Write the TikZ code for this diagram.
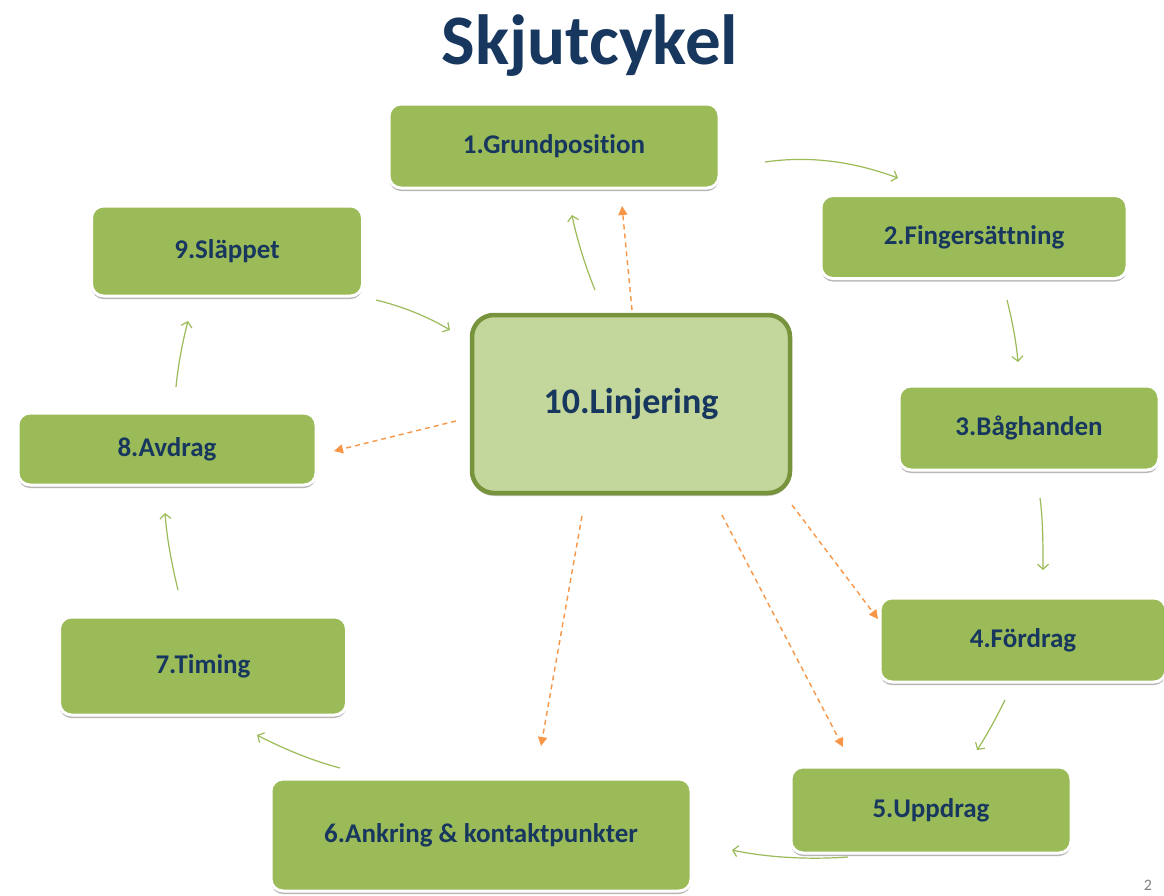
\documentclass[tikz,border=0pt]{standalone}
\usepackage{fontspec}
\setmainfont{Carlito}[Ligatures=NoCommon]
\usetikzlibrary{arrows.meta,shadows}
\definecolor{boxgreen}{HTML}{9BBB59}
\definecolor{lightgreen}{HTML}{C3D69B}
\definecolor{darkolive}{HTML}{77933C}
\definecolor{navy}{HTML}{17375E}
\definecolor{arrgreen}{HTML}{9BBB59}
\definecolor{arrorange}{HTML}{F79646}
\tikzset{
  box/.style={rectangle, rounded corners=12pt, fill=boxgreen, draw=white, line width=3pt,
    drop shadow={shadow xshift=0pt, shadow yshift=-3pt, opacity=0.4, fill=black!70},
    text=navy, font=\bfseries\fontsize{27}{32}\selectfont, inner sep=0pt},
  centerbox/.style={rectangle, rounded corners=22pt, fill=lightgreen, draw=darkolive, line width=4.5pt,
    drop shadow={shadow xshift=0pt, shadow yshift=-3pt, opacity=0.3, fill=black!70},
    text=navy, font=\bfseries\fontsize{36}{42}\selectfont, inner sep=0pt},
  flow/.style={draw=arrgreen, line width=1.2pt, -{Straight Barb[length=5pt,width=11pt]}},
  orangedash/.style={draw=arrorange, line width=1.4pt, dash pattern=on 5pt off 4pt, -{Triangle[length=9pt,width=9pt]}}
}
\begin{document}
\begin{tikzpicture}[x=1pt,y=-1pt]
\useasboundingbox (0,0) rectangle (1164,895);
\fill[white] (0,0) rectangle (1164,895);

\node[text=navy, font=\bfseries\fontsize{71}{78}\selectfont] (title) at (590,46) {Skjutcykel};

\node[box, minimum width=330pt, minimum height=84pt] (n1) at (554,146) {1.Grundposition};
\node[box, minimum width=306pt, minimum height=83pt] (n2) at (974,237) {2.Fingersättning};
\node[box, minimum width=260pt, minimum height=84pt] (n3) at (1029,428) {3.Båghanden};
\node[box, minimum width=286pt, minimum height=84pt] (n4) at (1023,640) {4.Fördrag};
\node[box, minimum width=280pt, minimum height=86pt] (n5) at (931,810) {5.Uppdrag};
\node[box, minimum width=420pt, minimum height=112pt] (n6) at (481,835) {6.Ankring \& kontaktpunkter};
\node[box, minimum width=287pt, minimum height=98pt] (n7) at (203,666) {7.Timing};
\node[box, minimum width=298pt, minimum height=72pt] (n8) at (167,449) {8.Avdrag};
\node[box, minimum width=271pt, minimum height=90pt] (n9) at (227,251) {9.Släppet};
\node[centerbox, minimum width=318pt, minimum height=178pt] (n10) at (631,404) {10.Linjering};

% green cycle arrows
\coordinate (a12s) at (765,162); \coordinate (a12e) at (898,178);
\draw[flow] (a12s) .. controls (820,154) and (865,166) .. (a12e);
\coordinate (a23s) at (1007,300); \coordinate (a23e) at (1018,362);
\draw[flow] (a23s) .. controls (1012,320) and (1016,340) .. (a23e);
\coordinate (a34s) at (1040,498); \coordinate (a34e) at (1043,570);
\draw[flow] (a34s) .. controls (1043,520) and (1043,545) .. (a34e);
\coordinate (a45s) at (1005,700); \coordinate (a45e) at (977,750);
\draw[flow] (a45s) .. controls (996,718) and (987,735) .. (a45e);
\coordinate (a56s) at (848,857); \coordinate (a56e) at (732,850);
\draw[flow] (a56s) .. controls (805,860) and (765,857) .. (a56e);
\coordinate (a67s) at (340,768); \coordinate (a67e) at (257,735);
\draw[flow] (a67s) .. controls (310,760) and (282,748) .. (a67e);
\coordinate (a78s) at (178,590); \coordinate (a78e) at (165,513);
\draw[flow] (a78s) .. controls (172,565) and (167,540) .. (a78e);
\coordinate (a89s) at (176,387); \coordinate (a89e) at (188,321);
\draw[flow] (a89s) .. controls (178,365) and (183,340) .. (a89e);
\coordinate (a910s) at (376,300); \coordinate (a910e) at (450,330);
\draw[flow] (a910s) .. controls (405,307) and (430,318) .. (a910e);
\coordinate (a101s) at (595,290); \coordinate (a101e) at (572,215);
\draw[flow] (a101s) .. controls (586,268) and (577,240) .. (a101e);

% orange dashed arrows from the centre
\coordinate (o1s) at (632,310); \coordinate (o1e) at (622,206);
\draw[orangedash] (o1s) -- (o1e);
\coordinate (o8s) at (456,421); \coordinate (o8e) at (334,451);
\draw[orangedash] (o8s) -- (o8e);
\coordinate (o6s) at (582,516); \coordinate (o6e) at (541,746);
\draw[orangedash] (o6s) -- (o6e);
\coordinate (o5s) at (722,515); \coordinate (o5e) at (843,747);
\draw[orangedash] (o5s) -- (o5e);
\coordinate (o4s) at (792,505); \coordinate (o4e) at (878,619);
\draw[orangedash] (o4s) -- (o4e);

\node[text=black!50, font=\fontsize{16}{18}\selectfont] (pg) at (1148,885) {2};
\end{tikzpicture}
\end{document}
